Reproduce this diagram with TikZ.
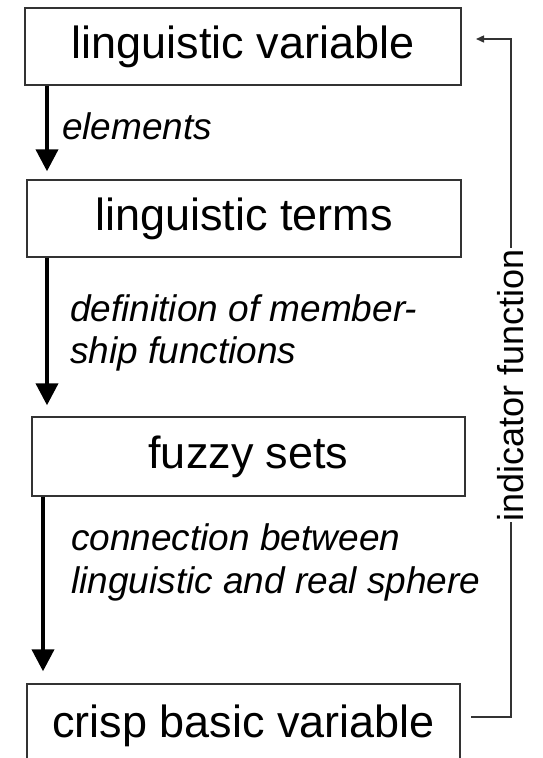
\documentclass[tikz,border=0pt]{standalone}
\usepackage{fontspec}
\setmainfont{Liberation Sans}
\usetikzlibrary{arrows.meta}
\begin{document}
\begin{tikzpicture}[x=1pt,y=-1pt,
  box/.style={draw=black!80, line width=1.4pt, inner sep=0pt, font=\fontsize{45}{54}\selectfont},
  lab/.style={inner sep=0pt, anchor=base west, font=\fontsize{37}{37}\selectfont\itshape},
  bigarrow/.style={line width=4pt, -{Triangle[width=22pt,length=22pt]}},
  thinline/.style={draw=black!80, line width=1.4pt},
  thinarrow/.style={thinline, -{Triangle[width=7pt,length=8pt]}}]
\useasboundingbox (0,0) rectangle (542,758);
% boxes
\node[box, minimum width=436pt, minimum height=77pt] (lv) at (243,46.5) {linguistic variable};
\node[box, minimum width=434pt, minimum height=77pt] (lt) at (244,218.5) {linguistic terms};
\node[box, minimum width=433pt, minimum height=79pt] (fs) at (248.5,456.5) {fuzzy sets};
\node[box, minimum width=433pt, minimum height=84.6pt] (cbv) at (243.5,726.3) {crisp basic variable};
% labels
\node[lab] (l1) at (62,139) {elements};
\node[lab] (l2a) at (70,321) {definition of member-};
\node[lab] (l2b) at (70,363) {ship functions};
\node[lab] (l3a) at (71,550) {connection between};
\node[lab] (l3b) at (71,593) {linguistic and real sphere};
% arrows
\coordinate (ax1) at (47,0);
\coordinate (ax3) at (43,0);
\draw[bigarrow] (lv.south -| ax1) -- ([yshift=8pt]lt.north -| ax1);
\draw[bigarrow] (lt.south -| ax1) -- ([yshift=11pt]fs.north -| ax1);
\draw[bigarrow] (fs.south -| ax3) -- ([yshift=12pt]cbv.north -| ax3);
% feedback
\coordinate (rb) at (471,717);
\coordinate (rt) at (476,39);
\node[rotate=90, inner xsep=1pt, inner ysep=0pt, font=\fontsize{36}{36}\selectfont] (ind) at (511,385) {indicator function};
\draw[thinline] (rb) -| (ind.west);
\draw[thinarrow] (ind.east) |- (rt);
\end{tikzpicture}
\end{document}
